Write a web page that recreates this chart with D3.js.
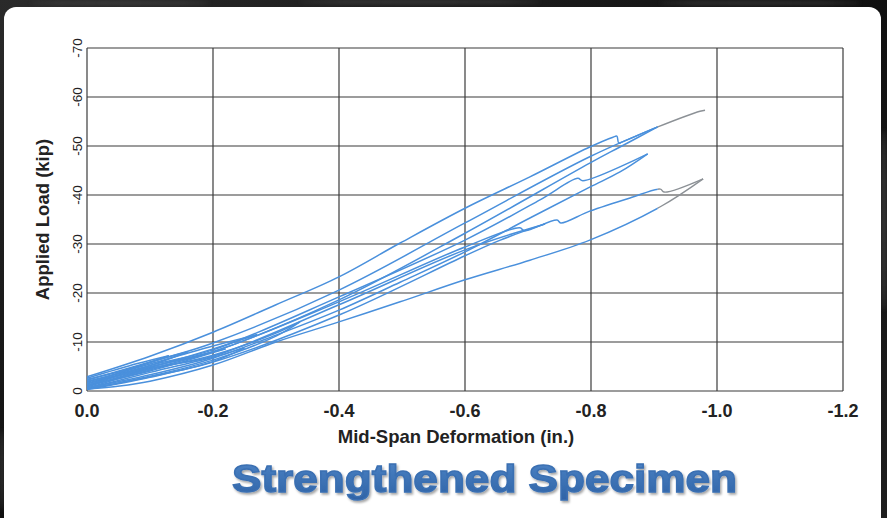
<!DOCTYPE html>
<html>
<head>
<meta charset="utf-8">
<script src="https://cdn.jsdelivr.net/npm/d3@7"></script>
<style>
  html, body { margin: 0; padding: 0; background: #0e0e0e; }
  svg { display: block; }
</style>
</head>
<body>
<svg id="chart" width="887" height="518"></svg>
<script>
// axis ticks
const deformTicks = [0, -0.2, -0.4, -0.6, -0.8, -1.0, -1.2];
const loadTicks = [0, -10, -20, -30, -40, -50, -60, -70];

// [deformation (in.), load (kip)], one array per branch
const loopALoad = [[0, -2.2], [-0.1, -5.9], [-0.16, -8.0]];
const loopAUnload = [[-0.16, -8.0], [-0.1, -5.2], [0, -2.0]];

const loopBLoad = [[0, -1.8], [-0.1, -5.5], [-0.2, -9.2], [-0.27, -11.5]];
const loopBUnload = [[-0.27, -11.5], [-0.2, -8.6], [-0.1, -4.8], [0, -1.5]];

const loopCLoad = [[0, -1.6], [-0.1, -4.9], [-0.22, -8.6]];
const loopCUnload = [[-0.22, -8.6], [-0.1, -4.1], [0, -1.2]];

const loopDLoad = [[0, -2.6], [-0.08, -5.6], [-0.13, -7.2]];
const loopDUnload = [[-0.13, -7.2], [-0.07, -4.6], [0, -2.4]];

const loop0Load = [[0, -0.5], [-0.1, -3.8], [-0.2, -6.9], [-0.25, -8.8]];
const loop0Unload = [[-0.25, -8.8], [-0.2, -6.0], [-0.1, -2.8], [0, -0.3]];

const loop1Load = [[0, -0.6], [-0.1, -4.3], [-0.2, -7.3], [-0.3, -11.8], [-0.338, -14.1]];
const loop1Unload = [[-0.338, -14.1], [-0.3, -11.2], [-0.2, -6.3], [-0.1, -3.0], [0, -0.4]];

const loop2Load = [[0, -0.8], [-0.1, -4.6], [-0.2, -7.1], [-0.4, -17.6], [-0.6, -28.8], [-0.727, -34.1]];
const loop2Unload = [[-0.727, -34.1], [-0.656, -30.8], [-0.6, -27.6], [-0.4, -15.5], [-0.2, -5.9], [-0.1, -2.9], [0, -0.4]];

const loop3Load = [[0, -1.0], [-0.1, -5.2], [-0.2, -8.4], [-0.4, -19.2], [-0.6, -30.8], [-0.719, -39.0],
  [-0.779, -43.4], [-0.787, -42.9], [-0.890, -48.4]];
const loop3Unload = [[-0.890, -48.4], [-0.846, -44.7], [-0.798, -41.6], [-0.703, -35.3], [-0.6, -28.4],
  [-0.497, -22.2], [-0.4, -16.5], [-0.3, -11.4], [-0.2, -6.7], [-0.1, -3.3], [0, -0.6]];

const loop4Load = [[0, -1.4], [-0.1, -5.8], [-0.2, -9.8], [-0.4, -20.6], [-0.6, -34.3], [-0.798, -47.8], [-0.906, -53.9]];
const loop4Unload = [[-0.906, -53.9], [-0.846, -49.8], [-0.798, -46.5], [-0.6, -32.2], [-0.4, -18.6],
  [-0.2, -8.0], [-0.1, -4.5], [0, -1.0]];

const loop5Load = [[0, -1.2], [-0.1, -4.9], [-0.2, -8.0], [-0.4, -18.2], [-0.6, -29.4], [-0.687, -33.3],
  [-0.694, -32.7], [-0.746, -34.9], [-0.752, -34.3], [-0.798, -36.7], [-0.862, -39.4], [-0.910, -41.2],
  [-0.916, -40.6], [-0.978, -43.3]];
const loop5Unload = [[-0.978, -43.3], [-0.910, -37.6], [-0.798, -30.8], [-0.703, -26.7], [-0.6, -22.7],
  [-0.497, -18.2], [-0.4, -14.1], [-0.3, -10.0], [-0.2, -5.3], [-0.1, -2.0], [-0.052, -1.0], [0, -0.4]];

const finalLoad = [[0, -2.9], [-0.1, -7.1], [-0.2, -12.0], [-0.3, -17.6], [-0.4, -23.3], [-0.497, -30.2],
  [-0.6, -37.3], [-0.703, -43.7], [-0.798, -49.8], [-0.835, -51.8], [-0.841, -52.0], [-0.844, -50.6],
  [-0.849, -50.8], [-0.906, -53.9], [-0.973, -57.1], [-0.981, -57.3]];

const branches = [loopALoad, loopAUnload, loopBLoad, loopBUnload, loopCLoad, loopCUnload,
  loopDLoad, loopDUnload, loop0Load, loop0Unload,
  loop1Load, loop1Unload, loop2Load, loop2Unload, loop3Load, loop3Unload,
  loop4Load, loop4Unload, loop5Load, loop5Unload, finalLoad];

const W = 887, H = 518;
const plot = { left: 87, right: 843, top: 48, bottom: 391 };
const grayFrom = -0.906;   // beyond this the trace is printed grey

const svg = d3.select('#chart');
const defs = svg.append('defs');

// dark textured surround
const bg = defs.append('linearGradient').attr('id', 'bg').attr('x1', 0).attr('y1', 0).attr('x2', 1).attr('y2', 1);
bg.append('stop').attr('offset', '0%').attr('stop-color', '#2a2a2a');
bg.append('stop').attr('offset', '50%').attr('stop-color', '#101010');
bg.append('stop').attr('offset', '100%').attr('stop-color', '#1e1e1e');
svg.append('rect').attr('width', W).attr('height', H).attr('fill', 'url(#bg)');

defs.append('filter').attr('id', 'blur').append('feGaussianBlur').attr('stdDeviation', 2);
const streaks = svg.append('g').attr('filter', 'url(#blur)').attr('fill', '#555').attr('opacity', 0.5);
streaks.append('ellipse').attr('cx', 120).attr('cy', 3).attr('rx', 90).attr('ry', 2);
streaks.append('ellipse').attr('cx', 420).attr('cy', 2).attr('rx', 120).attr('ry', 2);
streaks.append('ellipse').attr('cx', 760).attr('cy', 3).attr('rx', 100).attr('ry', 2);
streaks.append('ellipse').attr('cx', 884).attr('cy', 220).attr('rx', 3).attr('ry', 90);
streaks.append('ellipse').attr('cx', 2).attr('cy', 470).attr('rx', 2).attr('ry', 40);

// white panel
svg.append('rect')
  .attr('x', 4).attr('y', 7).attr('width', 877).attr('height', 540)
  .attr('rx', 12).attr('fill', '#ffffff');

const x = d3.scaleLinear().domain([0, -1.2]).range([plot.left, plot.right]);
const y = d3.scaleLinear().domain([0, -70]).range([plot.bottom, plot.top]);

// grid
const grid = svg.append('g').attr('stroke', '#3b3b3b').attr('stroke-width', 1.2).attr('fill', 'none');
grid.selectAll('line.v').data(deformTicks).enter().append('line')
  .attr('class', 'v')
  .attr('x1', d => x(d)).attr('x2', d => x(d))
  .attr('y1', y(0)).attr('y2', y(-70));
grid.selectAll('line.h').data(loadTicks).enter().append('line')
  .attr('class', 'h')
  .attr('x1', x(0)).attr('x2', x(-1.2))
  .attr('y1', d => y(d)).attr('y2', d => y(d));

// clip for blue / grey parts of the trace
defs.append('clipPath').attr('id', 'blueClip').append('rect')
  .attr('x', 0).attr('y', 0).attr('width', x(grayFrom)).attr('height', H);
defs.append('clipPath').attr('id', 'grayClip').append('rect')
  .attr('x', x(grayFrom)).attr('y', 0).attr('width', W - x(grayFrom)).attr('height', H);

const line = d3.line()
  .x(d => x(d[0]))
  .y(d => y(d[1]))
  .curve(d3.curveCatmullRom.alpha(0.5));

const traces = svg.append('g').attr('fill', 'none').attr('stroke-linejoin', 'round');
traces.append('g').attr('clip-path', 'url(#blueClip)')
  .selectAll('path').data(branches).enter().append('path')
  .attr('d', line)
  .attr('stroke', '#4a90dc')
  .attr('stroke-width', 1.5);
traces.append('g').attr('clip-path', 'url(#grayClip)')
  .selectAll('path').data(branches).enter().append('path')
  .attr('d', line)
  .attr('stroke', '#8c9196')
  .attr('stroke-width', 1.4);

// tick labels
const fmtX = d3.format('.1f');
svg.append('g')
  .selectAll('text').data(deformTicks).enter().append('text')
  .attr('x', d => x(d)).attr('y', 417)
  .attr('text-anchor', 'middle')
  .attr('font-family', 'Liberation Sans, Arial, sans-serif')
  .attr('font-weight', 'bold')
  .attr('font-size', 18)
  .attr('fill', '#222')
  .text(d => d === 0 ? '0.0' : fmtX(d).replace('\u2212', '-'));

svg.append('g')
  .selectAll('text').data(loadTicks).enter().append('text')
  .attr('transform', d => `translate(82,${y(d)}) rotate(-90)`)
  .attr('text-anchor', 'middle')
  .attr('font-family', 'Liberation Sans, Arial, sans-serif')
  .attr('font-size', 13.5)
  .attr('fill', '#222')
  .text(d => String(d));

// axis titles
svg.append('text')
  .attr('x', 456).attr('y', 443)
  .attr('text-anchor', 'middle')
  .attr('font-family', 'Liberation Sans, Arial, sans-serif')
  .attr('font-weight', 'bold')
  .attr('font-size', 18.5)
  .attr('fill', '#222')
  .text('Mid-Span Deformation (in.)');

svg.append('text')
  .attr('transform', `translate(49,${(plot.top + plot.bottom) / 2}) rotate(-90)`)
  .attr('text-anchor', 'middle')
  .attr('font-family', 'Liberation Sans, Arial, sans-serif')
  .attr('font-weight', 'bold')
  .attr('font-size', 18.5)
  .attr('fill', '#222')
  .text('Applied Load (kip)');

// big caption
const tg = defs.append('linearGradient').attr('id', 'titleFill').attr('x1', 0).attr('y1', 0).attr('x2', 0).attr('y2', 1);
tg.append('stop').attr('offset', '0%').attr('stop-color', '#4d84c6');
tg.append('stop').attr('offset', '100%').attr('stop-color', '#2f63a6');
const sh = defs.append('filter').attr('id', 'shadow').attr('x', '-5%').attr('y', '-20%').attr('width', '110%').attr('height', '150%');
sh.append('feDropShadow').attr('dx', 1.5).attr('dy', 2).attr('stdDeviation', 1.2).attr('flood-color', '#000').attr('flood-opacity', 0.35);

svg.append('text')
  .attr('x', 484.5).attr('y', 492)
  .attr('text-anchor', 'middle')
  .attr('font-family', 'Liberation Sans, Arial, sans-serif')
  .attr('font-weight', 'bold')
  .attr('font-size', 38)
  .attr('textLength', 505)
  .attr('lengthAdjust', 'spacingAndGlyphs')
  .attr('fill', 'url(#titleFill)')
  .attr('stroke', '#3a6fb2')
  .attr('stroke-width', 1.4)
  .attr('filter', 'url(#shadow)')
  .text('Strengthened Specimen');
</script>
</body>
</html>
